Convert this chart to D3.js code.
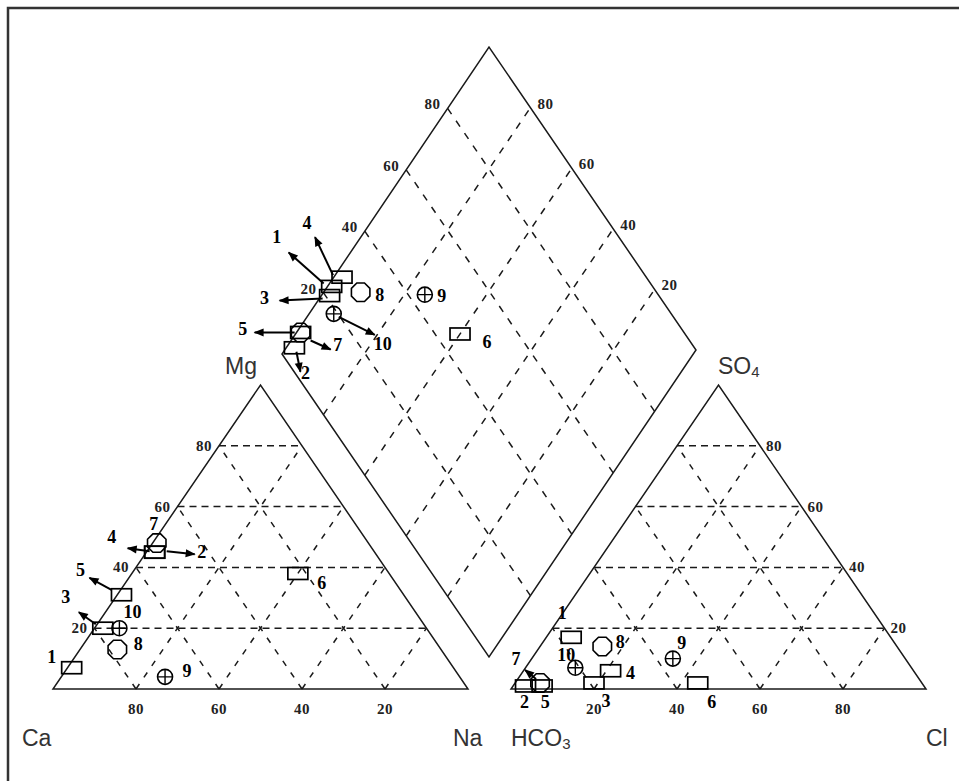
<!DOCTYPE html>
<html><head><meta charset="utf-8">
<script src="https://cdn.jsdelivr.net/npm/d3@7"></script>
<style>
html,body{margin:0;padding:0;background:#fff;}
svg{display:block;}
</style></head>
<body>
<svg id="chart" width="959" height="781"></svg>
<script>
// ---- data (percent of meq) ----
const samples = ["1","2","3","4","5","6","7","8","9","10"];
const ca   = [92, 53, 78, 53, 68, 22, 51, 78, 71, 74];
const mg   = [ 7, 45, 20, 45, 31, 38, 48, 13,  4, 20];
const na   = [ 1,  2,  2,  2,  1, 40,  1,  9, 25,  6];
const hco3 = [77, 96, 79, 73, 92, 54, 92, 71, 56, 81];
const so4  = [17,  1,  2,  6,  1,  2,  2, 14, 10,  7];
const cl   = [ 6,  3, 19, 21,  7, 44,  6, 15, 34, 12];
const markerType = ["rect","rect","rect","rect","rect","rect","oct","oct","cross","cross"];
const gridTicks = [20, 40, 60, 80];

// ---- annotation layout (label offsets / arrow offsets relative to marker) ----
// [labelDx, labelDy, arrowStartDx, arrowStartDy, arrowEndDx, arrowEndDy]
const cationNotes = [
  [-20,-11], [47,0,12,-1,40,2], [-37,-31,-7,-4,-24,-16], [-43,-15,-5,-1,-27,-4],
  [-41,-25,-10,-5,-32,-17], [24,10], [-3,-19], [21,-5], [22,-6], [13,-16]
];
const anionNotes = [
  [-9,-24], [-1,16], [12,18], [20,2], [3,16], [14,19], [-24,-24,-4,-4,-15,-13],
  [18,-4], [9,-16], [-9,-13]
];
const diamondNotes = [
  [-55,-49,-8,-3,-43,-34], [11,25,2,4,6,24], [-65,2,-7,3,-50,5], [-35,-54,-9,-2,-27,-40],
  [-58,-3,-6,0,-46,0], [27,8], [37,13,10,8,30,17], [19,3], [17,1], [49,30,5,3,41,21]
];

const svg = d3.select("#chart");
svg.append("defs").append("marker")
  .attr("id","ah").attr("viewBox","0 0 10 10").attr("refX",9).attr("refY",5)
  .attr("markerWidth",12).attr("markerHeight",10).attr("markerUnits","userSpaceOnUse")
  .attr("orient","auto")
  .append("path").attr("d","M0,1 L10,5 L0,9 z").attr("fill","#000");

// frame
svg.append("rect").attr("x",8).attr("y",8).attr("width",1000).attr("height",1000)
  .attr("fill","none").attr("stroke","#333").attr("stroke-width",2.5);

// ---- scales ----
// cation triangle: x from (Na + Mg/2), y from Mg
const cx = d3.scaleLinear().domain([0,100]).range([53,468]);
const cy = d3.scaleLinear().domain([0,100]).range([689,385]);
// anion triangle: x from (Cl + SO4/2), y from SO4
const ax = d3.scaleLinear().domain([0,100]).range([511,926]);
const ay = d3.scaleLinear().domain([0,100]).range([689,385]);
// diamond: x from (Na + SO4+Cl), y from Na (down) and SO4+Cl (up)
const dx = d3.scaleLinear().domain([0,200]).range([282,696]);
const dyN = d3.scaleLinear().domain([0,100]).range([0,303]);
const dyA = d3.scaleLinear().domain([0,100]).range([0,307]);
const dY0 = 354;

const catPt = (m, n) => [cx(n + m/2), cy(m)];
const anPt  = (s, c) => [ax(c + s/2), ay(s)];
const diPt  = (n, a) => [dx(n + a), dY0 + dyN(n) - dyA(a)];

const line = d3.line();
const ink = "#1a1a1a";

function outline(pts){
  svg.append("path").attr("d", line(pts) + "Z")
    .attr("fill","none").attr("stroke",ink).attr("stroke-width",1.5)
    .attr("stroke-linejoin","miter");
}
function dashed(p1, p2, dash){
  svg.append("path").attr("d", line([p1,p2]))
    .attr("fill","none").attr("stroke",ink).attr("stroke-width",1.5)
    .attr("stroke-dasharray", dash);
}

// ---- grids ----
gridTicks.forEach(v => {
  // cation
  dashed(catPt(v,0), catPt(v,100-v), "7,5");
  dashed(catPt(0,v), catPt(100-v,v), "6,8");
  dashed(catPt(0,100-v), catPt(100-v,0), "6,8");
  // anion
  dashed(anPt(v,0), anPt(v,100-v), "7,5");
  dashed(anPt(0,v), anPt(100-v,v), "6,8");
  dashed(anPt(0,100-v), anPt(100-v,0), "6,8");
  // diamond
  dashed(diPt(v,0), diPt(v,100), "7,8");
  dashed(diPt(0,v), diPt(100,v), "7,8");
});

outline([catPt(0,0), catPt(0,100), catPt(100,0)]);
outline([anPt(0,0), anPt(0,100), anPt(100,0)]);
outline([diPt(0,0), diPt(100,0), diPt(100,100), diPt(0,100)]);

// ---- tick labels ----
const tickFont = "'Liberation Serif', 'Times New Roman', serif";
function tickLabel(x, y, t, anchor){
  svg.append("text").attr("x",x).attr("y",y).text(t)
    .attr("font-family",tickFont).attr("font-size",15).attr("font-weight","bold")
    .attr("letter-spacing",0.5)
    .attr("fill","#222").attr("text-anchor",anchor).attr("dominant-baseline","central");
}
gridTicks.forEach(v => {
  let p = catPt(v,0); tickLabel(p[0]-7, p[1], v, "end");
  p = catPt(0,100-v); tickLabel(p[0], p[1]+20, v, "middle");
  p = anPt(v,100-v); tickLabel(p[0]+6, p[1], v, "start");
  p = anPt(0,v); tickLabel(p[0], p[1]+20, v, "middle");
  p = diPt(0,v); tickLabel(p[0]-7, p[1]-4, v, "end");
  p = diPt(100-v,100); tickLabel(p[0]+7, p[1]-4, v, "start");
});

// ---- corner labels ----
const sans = "'Liberation Sans', Arial, sans-serif";
function corner(x, y, main, sub){
  const t = svg.append("text").attr("x",x).attr("y",y)
    .attr("font-family",sans).attr("font-size",23).attr("fill","#333");
  t.append("tspan").text(main);
  if (sub) t.append("tspan").text(sub).attr("font-size",15).attr("dy",3);
}
corner(22, 746, "Ca");
corner(453, 746, "Na");
corner(511, 746, "HCO", "3");
corner(926, 746, "Cl");
corner(225, 374, "Mg");
corner(718, 374, "SO", "4");

// ---- markers ----
function octagon(x, y, r){
  const pts = d3.range(8).map(i => {
    const a = (i*45 + 22.5) * Math.PI/180;
    return [x + r*Math.cos(a), y + r*Math.sin(a)];
  });
  return line(pts) + "Z";
}
function drawMarker(type, p){
  const [x,y] = p;
  if (type === "rect") {
    svg.append("rect").attr("x",x-10).attr("y",y-6).attr("width",20).attr("height",12)
      .attr("fill","none").attr("stroke","#000").attr("stroke-width",1.7);
  } else if (type === "oct") {
    svg.append("path").attr("d",octagon(x,y,10))
      .attr("fill","none").attr("stroke","#000").attr("stroke-width",1.6);
  } else {
    svg.append("circle").attr("cx",x).attr("cy",y).attr("r",7.5)
      .attr("fill","none").attr("stroke","#000").attr("stroke-width",1.6);
    svg.append("path").attr("d", line([[x-7,y],[x+7,y]]) + line([[x,y-7],[x,y+7]]))
      .attr("stroke","#000").attr("stroke-width",1.4);
  }
}
const labFont = "'Liberation Serif', 'Times New Roman', serif";
function annotate(p, note, txt){
  const [x,y] = p;
  if (note.length > 2) {
    svg.append("path").attr("d", line([[x+note[2], y+note[3]], [x+note[4], y+note[5]]]))
      .attr("stroke","#000").attr("stroke-width",2).attr("fill","none")
      .attr("marker-end","url(#ah)");
  }
  svg.append("text").attr("x", x+note[0]).attr("y", y+note[1]).text(txt)
    .attr("font-family",labFont).attr("font-size",18).attr("font-weight","bold")
    .attr("fill","#000").attr("text-anchor","middle").attr("dominant-baseline","central");
}

samples.forEach((s, i) => {
  const pc = catPt(mg[i], na[i]);
  const pa = anPt(so4[i], cl[i]);
  const pd = diPt(na[i], so4[i] + cl[i]);
  drawMarker(markerType[i], pc);
  drawMarker(markerType[i], pa);
  drawMarker(markerType[i], pd);
});
samples.forEach((s, i) => {
  annotate(catPt(mg[i], na[i]), cationNotes[i], s);
  annotate(anPt(so4[i], cl[i]), anionNotes[i], s);
  annotate(diPt(na[i], so4[i] + cl[i]), diamondNotes[i], s);
});
</script>
</body></html>
